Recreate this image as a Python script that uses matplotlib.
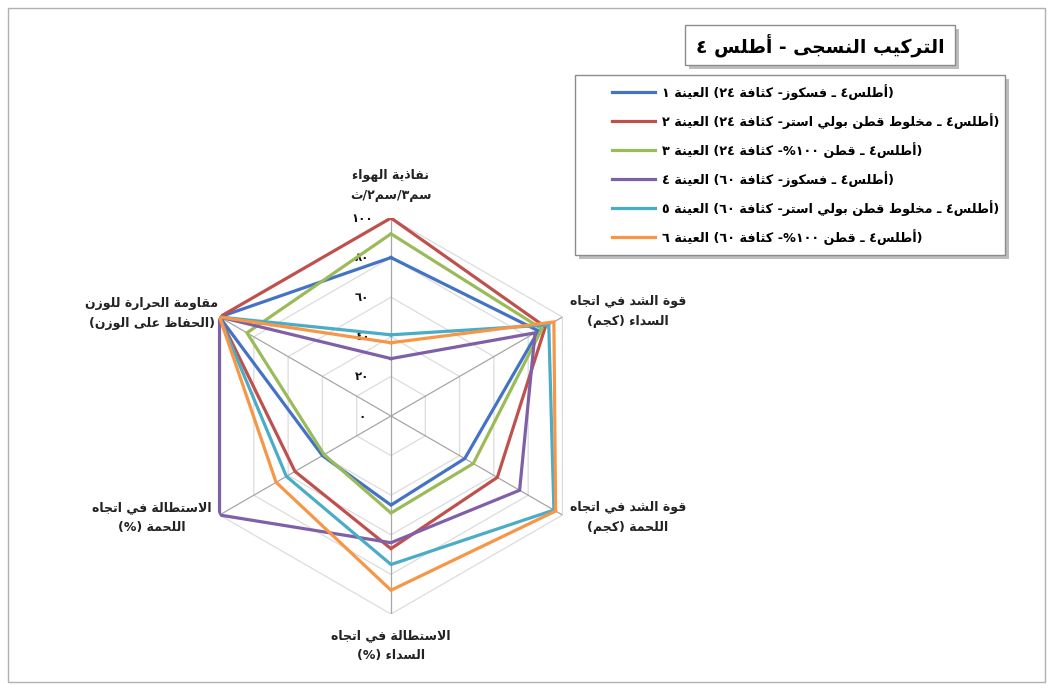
import re
import numpy as np
import matplotlib.pyplot as plt
import matplotlib.transforms as mtransforms
from matplotlib.patches import Rectangle

# matplotlib has no Arabic shaping, so letters are mapped to their
# presentation forms and the line is laid out right-to-left by hand
DUAL = {'ئ': 0xFE89, 'ب': 0xFE8F, 'ت': 0xFE95, 'ث': 0xFE99, 'ج': 0xFE9D,
        'ح': 0xFEA1, 'خ': 0xFEA5, 'س': 0xFEB1, 'ش': 0xFEB5, 'ص': 0xFEB9,
        'ض': 0xFEBD, 'ط': 0xFEC1, 'ظ': 0xFEC5, 'ع': 0xFEC9, 'غ': 0xFECD,
        'ف': 0xFED1, 'ق': 0xFED5, 'ك': 0xFED9, 'ل': 0xFEDD, 'م': 0xFEE1,
        'ن': 0xFEE5, 'ه': 0xFEE9, 'ي': 0xFEF1}
RIGHT = {'آ': 0xFE81, 'أ': 0xFE83, 'ؤ': 0xFE85, 'إ': 0xFE87, 'ا': 0xFE8D,
         'ة': 0xFE93, 'د': 0xFEA9, 'ذ': 0xFEAB, 'ر': 0xFEAD, 'ز': 0xFEAF,
         'و': 0xFEED, 'ى': 0xFEEF}
LAM_ALEF = {'آ': 0xFEF5, 'أ': 0xFEF7, 'إ': 0xFEF9, 'ا': 0xFEFB}
MIRROR = {'(': ')', ')': '('}


def shape(s):
    toks = []
    i = 0
    while i < len(s):
        if s[i] == 'ل' and i + 1 < len(s) and s[i + 1] in LAM_ALEF:
            toks.append(('LA', s[i + 1]))
            i += 2
        else:
            toks.append(('C', s[i]))
            i += 1

    def fwd(t):
        return t[0] == 'C' and (t[1] in DUAL or t[1] == 'ـ')

    def joins(t):
        return t[0] == 'LA' or t[1] in DUAL or t[1] in RIGHT or t[1] == 'ـ'

    out = []
    for k, t in enumerate(toks):
        prev = k > 0 and fwd(toks[k - 1]) and joins(t)
        nxt = fwd(t) and k + 1 < len(toks) and joins(toks[k + 1])
        if t[0] == 'LA':
            out.append(chr(LAM_ALEF[t[1]] + (1 if prev else 0)))
        elif t[1] in DUAL:
            form = 3 if (prev and nxt) else 1 if prev else 2 if nxt else 0
            out.append(chr(DUAL[t[1]] + form))
        elif t[1] in RIGHT:
            out.append(chr(RIGHT[t[1]] + (1 if prev else 0)))
        else:
            out.append(t[1])
    return ''.join(out)


def rtl(s):
    lines = []
    for line in s.split('\n'):
        runs = re.findall(r'[0-9\u0660-\u0669]+|.', shape(line))
        lines.append(''.join(MIRROR.get(r, r) for r in reversed(runs)))
    return '\n'.join(lines)


# chart data
title = 'التركيب النسجى - أطلس ٤'
axis_labels = [
    'نفاذية الهواء\nسم٣/سم٢/ث',
    'قوة الشد في اتجاه\nالسداء (كجم)',
    'قوة الشد في اتجاه\nاللحمة (كجم)',
    'الاستطالة في اتجاه\nالسداء (%)',
    'الاستطالة في اتجاه\nاللحمة (%)',
    'مقاومة الحرارة للوزن\n(الحفاظ على الوزن)',
]
tick_values = [0, 20, 40, 60, 80, 100]
tick_labels = ['٠', '٢٠', '٤٠', '٦٠', '٨٠', '١٠٠']

series_names = [
    '(أطلس٤ ـ فسكوز- كثافة ٢٤) العينة ١',
    '(أطلس٤ ـ مخلوط قطن بولي استر- كثافة ٢٤) العينة ٢',
    '(أطلس٤ ـ قطن ١٠٠%- كثافة ٢٤) العينة ٣',
    '(أطلس٤ ـ فسكوز- كثافة ٦٠) العينة ٤',
    '(أطلس٤ ـ مخلوط قطن بولي استر- كثافة ٦٠) العينة ٥',
    '(أطلس٤ ـ قطن ١٠٠%- كثافة ٦٠) العينة ٦',
]
sample1 = [80, 86, 43, 45, 40, 100]
sample2 = [100, 90, 62, 67, 56, 100]
sample3 = [92, 88, 48, 49, 39, 84]
sample4 = [29, 84, 75, 64, 100, 100]
sample5 = [41, 92, 95, 75, 61, 100]
sample6 = [37, 95, 96, 88, 67, 100]
colors = ['#4472C4', '#C0504D', '#9BBB59', '#7F60A8', '#4BACC6', '#F79646']

W, H = 1053, 690
fig = plt.figure(figsize=(W / 100, H / 100), dpi=100)
fig.patch.set_facecolor('white')

# overlay in pixel units for the frame, title and legend boxes
over = fig.add_axes([0, 0, 1, 1])
over.set_xlim(0, W)
over.set_ylim(H, 0)
over.axis('off')
over.add_patch(Rectangle((8, 8), W - 16, H - 16, fill=False, ec='#b0b0b0', lw=1))

# radar axes
cx, cy, R = 391, 416, 198
ax = fig.add_axes([(cx - R) / W, 1 - (cy + R) / H, 2 * R / W, 2 * R / H],
                  projection='polar', zorder=2)
ax.set_theta_zero_location('N')
ax.set_theta_direction(-1)
ax.set_ylim(0, 100)
ax.set_axis_off()

n = len(axis_labels)
theta = np.linspace(0, 2 * np.pi, n, endpoint=False)
closed = np.append(theta, theta[0])

for v in tick_values[1:]:
    ax.plot(closed, [v] * (n + 1), color='#dcdcdc', lw=0.9, zorder=1)
for t in theta:
    ax.plot([t, t], [0, 100], color='#a6a6a6', lw=0.9, zorder=1)

tick_tr = mtransforms.offset_copy(ax.transData, fig=fig, x=-29, y=0, units='dots')
for v, lab in zip(tick_values, tick_labels):
    ax.text(0, v, lab, transform=tick_tr, ha='center', va='center',
            fontsize=8.5, fontweight='bold', color='#111111', zorder=3)

all_samples = [sample1, sample2, sample3, sample4, sample5, sample6]
for vals, col in zip(all_samples, colors):
    ax.plot(closed, vals + vals[:1], color=col, lw=2.3, zorder=4,
            solid_joinstyle='miter')

# category labels around the radar
label_pos = [(391, 185), (628, 312), (628, 518), (391, 646), (152, 518), (152, 314)]
for (x, y), lab in zip(label_pos, axis_labels):
    over.text(x, y, rtl(lab), ha='center', va='center', fontsize=9,
              fontweight='bold', color='#222222', linespacing=1.7)

# title box with shadow
over.add_patch(Rectangle((689, 29), 270, 40, fc='#bdbdbd', ec='none'))
over.add_patch(Rectangle((685, 25), 270, 40, fc='white', ec='#8c8c8c', lw=1))
over.text(820, 45, rtl(title), ha='center', va='center', fontsize=13.5,
          fontweight='bold', color='black')

# legend box with shadow
over.add_patch(Rectangle((579, 79), 430, 180, fc='#bdbdbd', ec='none'))
over.add_patch(Rectangle((575, 75), 430, 180, fc='white', ec='#8c8c8c', lw=1))
row_y = 92
for name, col in zip(series_names, colors):
    over.plot([612, 655], [row_y, row_y], color=col, lw=2.3)
    over.text(662, row_y, rtl(name), ha='left', va='center', fontsize=9.2,
              fontweight='bold', color='black')
    row_y += 29

fig.savefig('out.png', dpi=100)
